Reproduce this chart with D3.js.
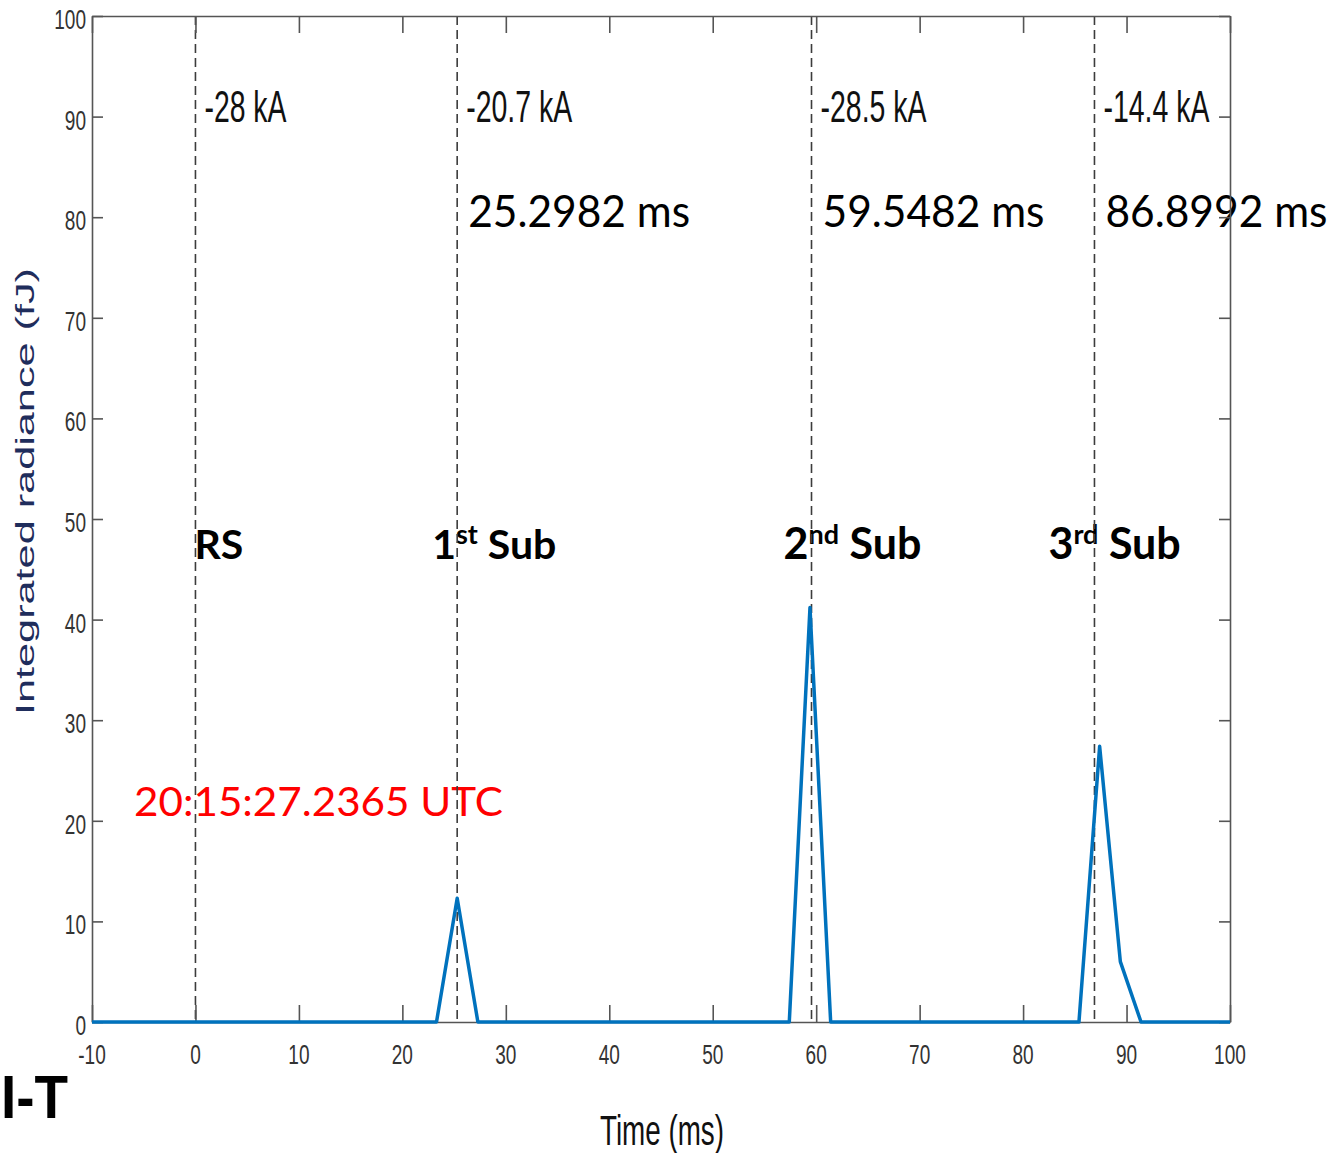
<!DOCTYPE html>
<html><head><meta charset="utf-8">
<script src="https://cdn.jsdelivr.net/npm/d3@7"></script>
<style>body{margin:0;background:#fff}svg{display:block}</style>
</head><body>
<svg id="chart" width="1335" height="1153"></svg>
<script>
// ---------------- data ----------------
const timeMs   = [-10, 23.3, 25.3, 27.3, 57.4, 59.4, 61.4, 85.4, 87.4, 89.4, 91.4, 100];
const radiance = [0,   0,    12.3, 0,    0,    41.2, 0,    0,    27.4, 6.0,  0,    0];
const strokeTimes   = [0, 25.2982, 59.5482, 86.8992];
const peakCurrents  = ["-28 kA", "-20.7 kA", "-28.5 kA", "-14.4 kA"];
const strokeTimeTxt = ["", "25.2982 ms", "59.5482 ms", "86.8992 ms"];
const strokeNum     = ["RS", "1", "2", "3"];
const strokeSup     = ["", "st", "nd", "rd"];
const strokeSuffix  = ["", " Sub", " Sub", " Sub"];
const xTicks = [-10, 0, 10, 20, 30, 40, 50, 60, 70, 80, 90, 100];
const yTicks = [0, 10, 20, 30, 40, 50, 60, 70, 80, 90, 100];
const utcLabel = "20:15:27.2365 UTC";
const xTitle = "Time (ms)";
const yTitle = "Integrated radiance (fJ)";
const panelTag = "I-T";

// ---------------- layout ----------------
const W = 1335, H = 1153;
const m = {left: 92, top: 16, right: 105, bottom: 131};
const iw = W - m.left - m.right, ih = H - m.top - m.bottom;
const subLabelStart = [-1, -25, -28, -46]; // px from stroke line
const subLabelSize  = [41, 41, 43, 43];
const axisCol = "#555", tickTxt = "#333";

const svg = d3.select("#chart");
const x = d3.scaleLinear().domain([-10, 100]).range([m.left, m.left + iw]);
const y = d3.scaleLinear().domain([0, 100]).range([m.top + ih, m.top]);

function condText(g, px, py, str, opts) {
  const t = g.append("text")
    .attr("x", px).attr("y", py)
    .attr("font-family", opts.family || "Liberation Sans, Arial, sans-serif")
    .attr("font-size", opts.size)
    .attr("font-weight", opts.weight || "normal")
    .attr("fill", opts.fill || "#000")
    .attr("text-anchor", opts.anchor || "start")
    .text(str);
  if (opts.len) t.attr("textLength", opts.len).attr("lengthAdjust", "spacingAndGlyphs");
  if (opts.transform) t.attr("transform", opts.transform);
  return t;
}

const gText = svg.append("g");

strokeTimes.forEach((t, i) => {
  const w = peakCurrents[i].length <= 6 ? 82 : 106;
  condText(gText, x(t) + 9, 122, peakCurrents[i], {size: 45, len: w, fill: "#111"});
  if (strokeTimeTxt[i]) {
    condText(gText, x(t) + 11, 227, strokeTimeTxt[i], {size: 44, family: "Lato, 'Open Sans', sans-serif", len: 222, fill: "#000"});
  }
  const st = gText.append("text")
    .attr("x", x(t) + subLabelStart[i]).attr("y", 559)
    .attr("font-family", "Lato, sans-serif").attr("font-weight", "bold")
    .attr("font-size", subLabelSize[i]).attr("fill", "#000");
  st.append("tspan").text(strokeNum[i]);
  if (strokeSup[i]) {
    st.append("tspan").attr("font-size", 27).attr("dy", -15).text(strokeSup[i]);
    st.append("tspan").attr("dy", 15).text(strokeSuffix[i]);
  }
});

condText(gText, 134, 816, utcLabel, {size: 41, family: "Lato, sans-serif", len: 369, fill: "#ff0000"});

// dashed stroke lines
svg.append("g").selectAll("line").data(strokeTimes).join("line")
  .attr("x1", d => x(d)).attr("x2", d => x(d))
  .attr("y1", m.top).attr("y2", m.top + ih)
  .attr("stroke", "#3c3c3c").attr("stroke-width", 1.6)
  .attr("stroke-dasharray", "9,5");

// axes (box with inward ticks)
function styleAxis(g) {
  g.selectAll("path,line").attr("stroke", axisCol).attr("stroke-width", 1.6);
  g.selectAll("text").remove();
}
svg.append("g").attr("transform", `translate(0,${m.top + ih})`)
  .call(d3.axisBottom(x).tickValues(xTicks).tickSizeInner(-17).tickSizeOuter(0)).call(styleAxis);
svg.append("g").attr("transform", `translate(0,${m.top})`)
  .call(d3.axisTop(x).tickValues(xTicks).tickSizeInner(-17).tickSizeOuter(0)).call(styleAxis);
svg.append("g").attr("transform", `translate(${m.left},0)`)
  .call(d3.axisLeft(y).tickValues(yTicks).tickSizeInner(-11).tickSizeOuter(0)).call(styleAxis);
svg.append("g").attr("transform", `translate(${m.left + iw},0)`)
  .call(d3.axisRight(y).tickValues(yTicks).tickSizeInner(-11).tickSizeOuter(0)).call(styleAxis);

// data line
const pts = timeMs.map((t, i) => [t, radiance[i]]);
svg.append("path").datum(pts)
  .attr("d", d3.line().x(d => x(d[0])).y(d => y(d[1])))
  .attr("fill", "none").attr("stroke", "#0072BD").attr("stroke-width", 3.5)
  .attr("stroke-linejoin", "round");

// tick labels (condensed)
const gTick = svg.append("g");
xTicks.forEach(v => {
  gTick.append("text")
    .attr("transform", `translate(${x(v)},1064) scale(0.68,1)`)
    .attr("text-anchor", "middle")
    .attr("font-family", "Liberation Sans, Arial, sans-serif")
    .attr("font-size", 28).attr("fill", tickTxt).text(v);
});
yTicks.forEach(v => {
  gTick.append("text")
    .attr("transform", `translate(86,${y(v) + 13}) scale(0.68,1)`)
    .attr("text-anchor", "end")
    .attr("font-family", "Liberation Sans, Arial, sans-serif")
    .attr("font-size", 28).attr("fill", tickTxt).text(v);
});

// axis titles
condText(svg, 600, 1145, xTitle, {size: 42, len: 124, fill: "#111"});
condText(svg, 0, 0, yTitle, {size: 26, len: 447, fill: "#1f2d5c", anchor: "middle",
  transform: `translate(34,${(268 + 715) / 2}) rotate(-90)`});

// panel tag
condText(svg, 1, 1118, panelTag, {size: 62, weight: "bold", fill: "#000", len: 67});
</script>
</body></html>
